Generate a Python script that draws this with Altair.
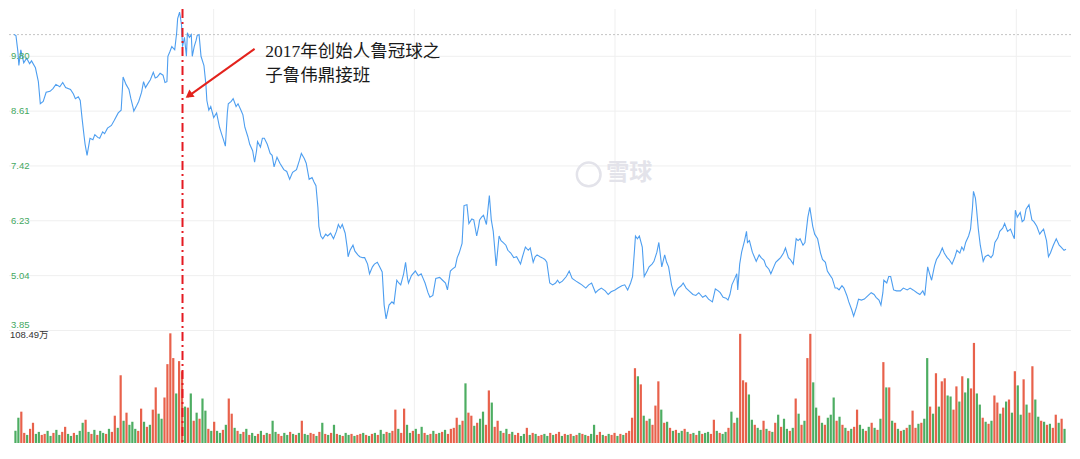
import altair as alt
import pandas as pd

# ---------------- data ----------------
price_day = [
    0, 2, 4, 5, 7, 10, 13, 16, 18, 22,
    25, 27, 30, 33, 37, 40, 43, 47, 50, 53,
    58, 61, 63, 66, 68, 70, 72, 73, 75, 78,
    81, 83, 86, 88, 91, 93, 96, 100, 103, 107,
    110, 112, 115, 118, 120, 122, 123, 126, 128, 131,
    133, 135, 137, 140, 143, 145, 147, 150, 153, 155,
    157, 158, 160, 162, 165, 167, 168, 170, 172, 173,
    175, 177, 178, 180, 182, 183, 185, 187, 188, 190,
    192, 195, 197, 198, 200, 202, 205, 208, 211, 213,
    215, 217, 219, 220, 223, 225, 228, 230, 233, 235,
    237, 240, 242, 245, 247, 249, 250, 253, 255, 257,
    260, 263, 265, 267, 270, 273, 277, 280, 283, 286,
    290, 293, 295, 298, 300, 303, 306, 308, 310, 312,
    313, 315, 317, 320, 322, 325, 328, 331, 333, 335,
    337, 340, 342, 343, 345, 348, 350, 353, 355, 358,
    360, 363, 365, 368, 370, 373, 375, 378, 380, 382,
    384, 385, 388, 390, 393, 395, 397, 400, 402, 404,
    405, 408, 412, 415, 418, 420, 422, 425, 427, 430,
    433, 437, 440, 443, 445, 448, 450, 453, 455, 457,
    460, 462, 465, 467, 470, 472, 475, 477, 478, 480,
    482, 485, 488, 490, 492, 493, 495, 498, 500, 502,
    505, 507, 510, 513, 516, 520, 522, 525, 528, 530,
    533, 535, 537, 540, 542, 545, 547, 550, 553, 556,
    558, 560, 563, 567, 570, 573, 577, 580, 583, 587,
    590, 593, 597, 600, 603, 607, 610, 613, 617, 620,
    624, 627, 630, 633, 635, 637, 638, 640, 642, 645,
    647, 650, 652, 655, 657, 660, 662, 665, 668, 670,
    672, 675, 678, 680, 682, 685, 687, 690, 693, 697,
    700, 703, 707, 710, 713, 717, 720, 723, 725, 728,
    731, 733, 735, 737, 740, 742, 743, 745, 747, 750,
    752, 753, 755, 758, 760, 762, 765, 767, 770, 772,
    775, 777, 780, 782, 785, 787, 790, 792, 795, 797,
    800, 803, 805, 807, 810, 812, 815, 817, 820, 822,
    825, 828, 830, 833, 835, 838, 840, 843, 845, 847,
    850, 852, 855, 857, 860, 862, 865, 867, 870, 873,
    877, 880, 883, 885, 888, 890, 892, 893, 896, 898,
    900, 903, 906, 910, 913, 917, 920, 923, 927, 930,
    933, 935, 938, 940, 942, 945, 947, 950, 953, 955,
    958, 960, 963, 966, 968, 971, 973, 975, 977, 980,
    982, 984, 985, 987, 988, 990, 992, 995, 997, 1000,
    1003, 1005, 1007, 1010, 1012, 1015, 1017, 1020, 1023, 1025,
    1027, 1028, 1030, 1033, 1035, 1037, 1039, 1042, 1045, 1047,
    1050, 1053, 1055, 1057, 1060, 1062, 1064, 1067, 1070, 1073,
    1075, 1078, 1080,
]
price_close = [
    10.27, 10.25, 9.90, 9.60, 9.94, 9.66, 9.76, 9.64, 9.70, 9.55,
    9.25, 8.77, 8.82, 9.02, 9.04, 9.10, 9.19, 9.14, 9.23, 9.12,
    9.08, 8.98, 8.88, 8.92, 8.84, 8.43, 8.06, 7.89, 7.65, 8.02,
    7.99, 8.10, 8.04, 8.02, 8.16, 8.12, 8.24, 8.30, 8.41, 8.57,
    8.63, 9.35, 9.19, 9.08, 8.88, 8.71, 8.61, 8.73, 8.82, 9.02,
    9.25, 9.12, 9.19, 9.29, 9.45, 9.33, 9.35, 9.43, 9.39, 9.23,
    9.25, 9.80, 9.90, 10.01, 9.94, 10.31, 10.62, 10.76, 10.48, 10.01,
    10.21, 9.80, 10.31, 10.21, 10.27, 9.80, 10.01, 10.15, 10.25, 10.27,
    9.80, 9.60, 9.19, 8.84, 8.63, 8.71, 8.47, 8.57, 8.26, 8.12,
    7.99, 7.85, 8.57, 8.77, 8.82, 8.88, 8.71, 8.77, 8.63, 8.53,
    8.26, 8.06, 7.89, 7.75, 7.50, 7.75, 7.95, 7.83, 8.02, 8.02,
    7.89, 7.69, 7.65, 7.40, 7.61, 7.48, 7.34, 7.30, 7.13, 7.28,
    7.34, 7.54, 7.69, 7.58, 7.48, 7.13, 7.17, 7.07, 6.99, 6.52,
    6.11, 5.90, 5.84, 5.94, 5.90, 5.96, 5.84, 6.00, 6.15, 6.07,
    6.15, 5.96, 5.66, 5.45, 5.59, 5.70, 5.57, 5.49, 5.45, 5.43,
    5.43, 5.29, 5.08, 5.23, 5.29, 5.33, 5.25, 5.12, 4.40, 4.10,
    4.30, 4.40, 4.47, 4.43, 4.94, 4.88, 4.84, 5.08, 5.33, 4.98,
    4.88, 5.04, 5.14, 5.04, 5.08, 4.98, 4.88, 4.67, 4.57, 4.61,
    4.98, 5.00, 4.94, 4.88, 4.73, 5.14, 5.18, 5.23, 5.43, 5.53,
    5.74, 6.56, 6.58, 6.17, 6.27, 6.25, 5.90, 6.11, 6.25, 6.31,
    6.35, 6.15, 6.78, 6.25, 6.00, 5.76, 5.25, 5.90, 5.80, 5.76,
    5.70, 5.59, 5.53, 5.43, 5.45, 5.29, 5.45, 5.66, 5.59, 5.64,
    5.33, 5.45, 5.49, 5.45, 5.43, 5.39, 5.33, 4.88, 4.84, 4.88,
    4.94, 4.88, 4.92, 5.02, 5.14, 4.98, 4.92, 4.88, 4.84, 4.77,
    4.84, 4.88, 4.67, 4.73, 4.77, 4.71, 4.63, 4.69, 4.73, 4.77,
    4.82, 4.84, 4.73, 4.88, 5.02, 5.59, 5.90, 5.84, 5.90, 5.66,
    5.02, 5.14, 5.23, 5.29, 5.35, 5.55, 5.76, 5.23, 5.49, 5.33,
    5.23, 4.84, 4.61, 4.71, 4.77, 4.82, 4.88, 4.77, 4.71, 4.63,
    4.61, 4.67, 4.57, 4.61, 4.53, 4.47, 4.75, 4.71, 4.67, 4.57,
    4.55, 4.51, 4.63, 4.84, 4.98, 5.08, 4.73, 5.29, 5.55, 5.80,
    6.00, 5.76, 5.80, 5.55, 5.45, 5.35, 5.49, 5.43, 5.37, 5.25,
    5.18, 5.08, 5.23, 5.33, 5.39, 5.43, 5.53, 5.64, 5.43, 5.39,
    5.29, 5.84, 5.80, 5.84, 5.70, 5.76, 6.31, 6.52, 6.11, 5.94,
    5.84, 5.53, 5.39, 5.33, 5.14, 5.04, 4.98, 4.77, 4.77, 4.73,
    4.82, 4.77, 4.61, 4.47, 4.30, 4.16, 4.36, 4.53, 4.51, 4.53,
    4.61, 4.67, 4.63, 4.57, 4.51, 4.40, 4.67, 4.94, 4.88, 5.02,
    5.02, 4.73, 4.71, 4.71, 4.77, 4.73, 4.77, 4.73, 4.67, 4.63,
    4.71, 4.61, 5.23, 5.08, 4.94, 5.25, 5.39, 5.49, 5.64, 5.53,
    5.43, 5.39, 5.29, 5.45, 5.59, 5.53, 5.66, 5.59, 5.76, 5.90,
    6.05, 6.52, 6.87, 6.72, 6.52, 6.05, 5.70, 5.35, 5.45, 5.49,
    5.43, 5.49, 5.76, 5.86, 6.00, 6.07, 6.17, 6.00, 6.05, 5.94,
    5.84, 6.46, 6.31, 6.41, 6.21, 6.25, 6.48, 6.58, 6.25, 6.21,
    6.11, 5.94, 6.00, 6.05, 5.80, 5.45, 5.53, 5.70, 5.84, 5.70,
    5.66, 5.59, 5.61,
]
assert len(price_day) == len(price_close)

# volume bars (万), one bar every 3 trading-day units
volume = [
    12, 25, 31, 10, 8, 14, 20, 9, 11, 8,
    9, 12, 7, 10, 13, 8, 11, 16, 9, 7,
    10, 8, 12, 20, 23, 11, 9, 13, 8, 12,
    10, 9, 14, 11, 27, 15, 67, 22, 30, 18,
    21, 14, 12, 34, 21, 16, 18, 33, 55, 29,
    24, 45, 78, 108.49, 84, 49, 81, 71, 36, 35,
    49, 22, 30, 24, 44, 32, 14, 12, 21, 12,
    10, 13, 18, 44, 29, 15, 12, 9, 11, 14,
    8, 10, 7, 9, 12, 8, 10, 9, 22, 11,
    9, 7, 10, 8, 11, 9, 8, 10, 22, 9,
    8, 10, 9, 7, 11, 20, 9, 8, 10, 18,
    9, 8, 7, 10, 8, 9, 7, 8, 9, 10,
    8, 7, 9, 10, 8, 13, 9, 11, 10, 12,
    33, 14, 10, 34, 18, 10, 12, 14, 9, 16,
    10, 8, 9, 12, 9, 10, 11, 13, 9, 14,
    15, 25, 18, 22, 59, 30, 27, 17, 20, 24,
    31, 18, 52, 40, 16, 22, 12, 10, 14, 9,
    11, 8, 10, 7, 9, 15, 8, 10, 9, 7,
    8, 9, 7, 10, 8, 9, 11, 7, 9, 8,
    9, 7, 8, 10, 9, 8, 7, 9, 18, 8,
    11, 8, 7, 9, 8, 10, 7, 9, 8, 10,
    12, 25, 74, 66, 58, 27, 22, 24, 18, 37,
    61, 33, 20, 21, 15, 12, 13, 10, 12, 14,
    11, 9, 10, 8, 12, 9, 10, 11, 9, 23,
    12, 10, 9, 11, 15, 31, 20, 25, 108, 62,
    60, 48, 23, 18, 15, 13, 22, 14, 12, 11,
    20, 28, 16, 24, 14, 12, 15, 44, 29, 18,
    22, 84, 108, 60, 35, 27, 20, 18, 25, 28,
    45, 22, 26, 18, 15, 12, 14, 16, 33, 18,
    14, 12, 16, 20, 15, 13, 24, 80, 55, 55,
    22, 20, 14, 12, 13, 15, 18, 32, 15, 19,
    20, 24, 84, 36, 29, 69, 36, 61, 64, 47,
    46, 33, 56, 41, 66, 50, 64, 54, 99, 49,
    38, 25, 21, 19, 22, 47, 40, 29, 35, 41,
    43, 30, 71, 57, 28, 63, 38, 30, 76, 43,
    26, 22, 21, 18, 19, 15, 28, 20, 24, 14,
]
# r = up day (red), g = down day (green)
direction = list(
    "ggrrgrrggr" "rggrggrrgg" "rgggrgrgrg" "grgrrgrgrg" "ggrrgrgrrg" "grrrrgrrgr"
    "grgrggrgrg" "grgrrgrgrg" "rggrgrgrgg" "rrggrgrgrg" "grrgrgrgrg" "rgrggrgrrg"
    "rgrgrggrgr" "rgrrggrgrg" "rgrgrgrgrr" "rrgrgrrgrg" "grrgrrgrgr" "grrggrgrgr"
    "rggrgrrgrg" "rgrgrgrggr" "rgrgrrgrgr" "rrrgrgrgrr" "rgrgrgrggr" "grgrgrggrr"
    "grggrgrgrr" "rggrggrgrg" "rgrggrgrgr" "grrggrgrgg" "grgrgrgrrg" "grgrgrgrgr"
    "grgrgrgrrg" "rggrgrgrrg" "grrgrggrrg" "grgrgrrgrg" "rgrggrgrrg" "grgrgrrgrg"
)
bar_day = [3 * i + 1.5 for i in range(len(volume))]
assert len(direction) == len(volume)

price_levels = [9.80, 8.61, 7.42, 6.23, 5.04, 3.85]
price_labels = ["9.80", "8.61", "7.42", "6.23", "5.04", "3.85"]
vgrid_days = [205, 411, 617, 823, 1029]
ref_level = [10.27]
event_day = [173]
vol_max_label = "108.49万"
note_lines = ["2017年创始人鲁冠球之", "子鲁伟鼎接班"]

# ---------------- chart ----------------
W, H = 1064, 436
RED, GREEN, BLUE = "#e23418", "#1b9636", "#4d9ef0"
LABEL_GREEN = "#43a85f"

xs = alt.Scale(domain=[0, 1080], nice=False, zero=False)
ps = alt.Scale(domain=[1.408, 10.826], nice=False, zero=False)
vs = alt.Scale(domain=[0, 429.3], nice=False, zero=True)

price_df = pd.DataFrame({"day": price_day, "close": price_close})
vol_df = pd.DataFrame({"day": bar_day, "vol": volume, "dir": direction})
lvl_df = pd.DataFrame({"level": price_levels, "label": price_labels})
vg_df = pd.DataFrame({"day": vgrid_days})

X = lambda f="day": alt.X(f"{f}:Q", scale=xs, axis=None)
YP = lambda f: alt.Y(f"{f}:Q", scale=ps, axis=None)

hgrid = alt.Chart(lvl_df).mark_rule(color="#efefef", strokeWidth=1).encode(y=YP("level"))
vgrid = alt.Chart(vg_df).mark_rule(color="#efefef", strokeWidth=1).encode(x=X())
dotted = alt.Chart(pd.DataFrame({"level": ref_level})).mark_rule(
    color="#c4c4c4", strokeWidth=1, strokeDash=[2, 2]
).encode(y=YP("level"))

bars = alt.Chart(vol_df).mark_bar(size=2.2, opacity=0.78).encode(
    x=X(),
    y=alt.Y("vol:Q", scale=vs, axis=None),
    color=alt.Color("dir:N", scale=alt.Scale(domain=["r", "g"], range=[RED, GREEN]), legend=None),
)

line = alt.Chart(price_df).mark_line(color=BLUE, strokeWidth=1.1).encode(x=X(), y=YP("close"))

event = alt.Chart(pd.DataFrame({"day": event_day})).mark_rule(
    color="#e41a22", strokeWidth=2, strokeDash=[9, 4, 2, 4]
).encode(x=X())

arrow_df = pd.DataFrame({"x1": [247], "x2": [178], "y1": [9.96], "y2": [8.92]})
arrow = alt.Chart(arrow_df).mark_rule(color="#e3221c", strokeWidth=2).encode(
    x=X("x1"), x2="x2", y=YP("y1"), y2="y2"
)
head = alt.Chart(pd.DataFrame({"day": [179.5], "p": [8.95]})).mark_point(
    shape="triangle-up", filled=True, size=80, angle=234, color="#e3221c", opacity=1
).encode(x=X(), y=YP("p"))

note_df = pd.DataFrame({"day": [258, 258], "p": [9.90, 9.37], "t": note_lines})
note = alt.Chart(note_df).mark_text(
    align="left", baseline="middle", fontSize=17.5, color="#1a1a1a",
    font="Liberation Serif, Noto Sans CJK SC",
).encode(x=X(), y=YP("p"), text="t:N")

ylab = alt.Chart(lvl_df).transform_filter("datum.level > 4").mark_text(
    align="left", baseline="middle", fontSize=9.5, color=LABEL_GREEN, font="Liberation Sans"
).encode(x=alt.value(2), y=YP("level"), text="label:N")
ylab_low = alt.Chart(lvl_df).transform_filter("datum.level < 4").mark_text(
    align="left", baseline="bottom", fontSize=9.5, color=LABEL_GREEN, font="Liberation Sans"
).encode(x=alt.value(2), y=YP("level"), text="label:N")
vlab = alt.Chart(pd.DataFrame({"v": [108.49], "t": [vol_max_label]})).mark_text(
    align="left", baseline="middle", dy=2, fontSize=9.5, color="#333333",
    font="Liberation Sans, Noto Sans CJK SC",
).encode(x=alt.value(1), y=alt.Y("v:Q", scale=vs, axis=None), text="t:N")

wm_circle = alt.Chart(pd.DataFrame({"day": [590], "p": [7.236]})).mark_point(
    shape="circle", filled=False, size=560, strokeWidth=2.5, color="#e3e3ea", opacity=1
).encode(x=X(), y=YP("p"))
wm_text = alt.Chart(pd.DataFrame({"day": [608], "p": [7.277], "t": ["雪球"]})).mark_text(
    align="left", baseline="middle", fontSize=23, color="#e3e3ea", font="Noto Sans CJK SC",
    fontWeight="bold",
).encode(x=X(), y=YP("p"), text="t:N")

chart = alt.layer(
    hgrid, vgrid, dotted, wm_circle, wm_text, bars, line, event, arrow, head, note,
    ylab, ylab_low, vlab,
).resolve_scale(y="independent").properties(
    width=W, height=H,
    autosize=alt.AutoSizeParams(type="fit", contains="padding"),
    padding=0, background="white",
).configure_view(stroke=None)

chart.save("out.html", embed_options={"renderer": "svg", "actions": False})
